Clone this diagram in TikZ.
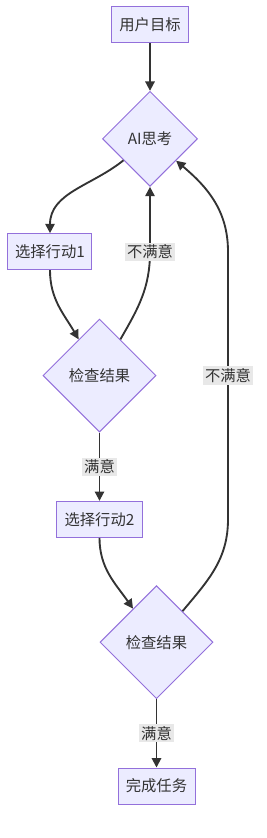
\documentclass[tikz,border=0pt]{standalone}
\usepackage{fontspec}
\setmainfont{Noto Sans CJK SC}
\usepackage{tikz}
\usetikzlibrary{shapes.geometric, arrows.meta, positioning, calc}
\usepackage{xcolor}
\definecolor{flowline}{RGB}{51, 51, 51}
\definecolor{flowfill}{RGB}{236, 236, 255}
\definecolor{flowedge}{RGB}{147, 112, 219}
\definecolor{flowlabel}{RGB}{232, 232, 232}
\tikzset{
  sbox/.style={
    rectangle, draw=flowedge, fill=flowfill, line width=0.75pt,
    text=flowline, font=\fontsize{11.5}{13}\selectfont,
    minimum height=27pt, inner sep=0pt
  },
  dbox/.style={
    diamond, aspect=1, draw=flowedge, fill=flowfill, line width=0.75pt,
    text=flowline, font=\fontsize{11.5}{13}\selectfont,
    inner sep=0pt
  },
  lbl/.style={
    fill=flowlabel, text=flowline, inner sep=1.5pt,
    font=\fontsize{11.5}{13}\selectfont
  },
  arr/.style={-{Triangle[length=7pt, width=7pt]}, line width=1.4pt, color=flowline},
}

\begin{document}
\begin{tikzpicture}
    \node[sbox, minimum width=57.75pt] (goal) {用户目标};
    \useasboundingbox ($(goal.center)+(-112.5pt,18.75pt)$) rectangle ++(200.25pt,-628.5pt);

    \node[dbox, minimum size=71.25pt, below=35.5pt of goal]              (think)  {AI思考};
    \node[sbox, minimum width=63pt, below=34.75pt of think, xshift=-75pt] (act1)   {选择行动1};
    \node[dbox, minimum size=84.75pt, below=36.25pt of act1, xshift=37.125pt] (check1) {检查结果};
    \node[sbox, minimum width=63.75pt, below=51.25pt of check1]          (act2)   {选择行动2};
    \node[dbox, minimum size=84.75pt, below=35.5pt of act2, xshift=42.75pt] (check2) {检查结果};
    \node[sbox, minimum width=57.75pt, below=51.25pt of check2]          (done)   {完成任务};

    \coordinate (r1) at (think |- act1);
    \coordinate (r2) at ($(think |- check1)+(58.5pt,0)$);
    \coordinate (r3) at (r2 |- act1);
    \coordinate (r4) at (r2 |- act2);

    \draw[arr] (goal) -- (think);
    \draw[arr] (think) to[out=-141, in=90] (act1);
    \draw[arr] (act1) to[out=-90, in=120] (check1);
    \draw[arr] (check1) to[out=60, in=-90] (r1) node[lbl]{不满意} -- (think);
    \draw[arr] (check1) -- node[lbl]{满意} (act2);
    \draw[arr] (act2) to[out=-90, in=125] (check2);
    \draw[arr] (check2) to[out=50, in=-90] (r4) -- (r2) node[lbl]{不满意} -- (r3) to[out=90, in=-40] (think);
    \draw[arr] (check2) -- node[lbl]{满意} (done);
  \end{tikzpicture}
\end{document}
